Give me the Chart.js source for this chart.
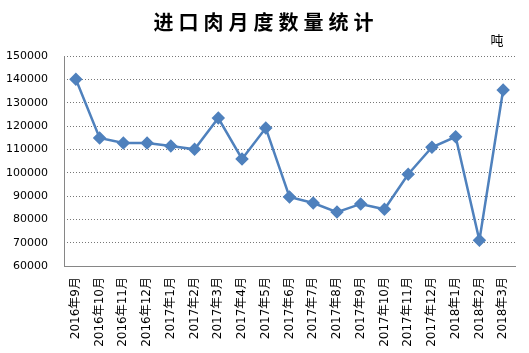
<!DOCTYPE html>
<html>
<head>
<meta charset="utf-8">
<script src="https://cdn.jsdelivr.net/npm/chart.js@4"></script>
<style>
  body { margin: 0; background: #fff; }
  canvas { display: block; }
</style>
</head>
<body>
<canvas id="meatChart" width="529" height="353"></canvas>
<script>
const months = [
  "2016年9月", "2016年10月", "2016年11月", "2016年12月",
  "2017年1月", "2017年2月", "2017年3月", "2017年4月", "2017年5月",
  "2017年6月", "2017年7月", "2017年8月", "2017年9月", "2017年10月",
  "2017年11月", "2017年12月", "2018年1月", "2018年2月", "2018年3月"
];
const tons = [
  140000, 114900, 112700, 112700,
  111400, 110000, 123400, 105900, 119100,
  89600, 87000, 83100, 86600, 84300,
  99300, 110900, 115400, 71000, 135400
];
const yMin = 60000;
const yMax = 150000;
const yStep = 10000;

const titleText = "进口肉月度数量统计";
const unitText = "吨";

/* TITLE + UNIT + solid left axis line */
const headerPlugin = {
  id: "header",
  beforeDatasetsDraw(chart) {
    const ctx = chart.ctx;
    const a = chart.chartArea;
    ctx.save();
    ctx.strokeStyle = "#868686";
    ctx.lineWidth = 1;
    ctx.beginPath();
    ctx.moveTo(Math.round(a.left) + 0.5, a.top);
    ctx.lineTo(Math.round(a.left) + 0.5, a.bottom);
    ctx.stroke();
    ctx.restore();
  },
  afterDraw(chart) {
    const ctx = chart.ctx;
    ctx.save();
    ctx.fillStyle = "#000";
    ctx.textAlign = "center";
    ctx.textBaseline = "middle";
    ctx.font = "bold 20px 'Noto Sans CJK SC'";
    ctx.letterSpacing = "5px";
    ctx.fillText(titleText, 266, 22);
    ctx.letterSpacing = "0px";
    ctx.font = "13px 'Noto Sans CJK SC'";
    ctx.fillText(unitText, 497, 40);
    ctx.restore();
  }
};

new Chart(document.getElementById("meatChart"), {
  type: "line",
  data: {
    labels: months,
    datasets: [{
      data: tons,
      borderColor: "#4f81bd",
      backgroundColor: "#4f81bd",
      borderWidth: 2.5,
      pointStyle: "rectRot",
      pointRadius: 5,
      pointHoverRadius: 5,
      tension: 0
    }]
  },
  options: {
    responsive: false,
    animation: false,
    layout: { padding: { top: 56, right: 14, left: 0, bottom: 0 } },
    plugins: {
      legend: { display: false },
      tooltip: { enabled: false }
    },
    scales: {
      x: {
        offset: true,
        afterFit(scale) { scale.height = 87; },
        grid: { display: false, drawTicks: false },
        border: { color: "#868686", width: 1 },
        ticks: {
          autoSkip: false,
          maxRotation: 90,
          minRotation: 90,
          padding: 11,
          color: "#000",
          font: { family: "'DejaVu Sans', 'Noto Sans CJK SC'", size: 12 }
        }
      },
      y: {
        min: yMin,
        max: yMax,
        afterFit(scale) { scale.width = 64; },
        grid: {
          color: "#777",
          drawTicks: false,
          lineWidth: 1
        },
        border: { display: false, dash: [1, 2] },
        ticks: {
          stepSize: yStep,
          padding: 16,
          color: "#000",
          font: { family: "'DejaVu Sans'", size: 11 },
          callback: (v) => String(v)
        }
      }
    }
  },
  plugins: [headerPlugin]
});
</script>
</body>
</html>
